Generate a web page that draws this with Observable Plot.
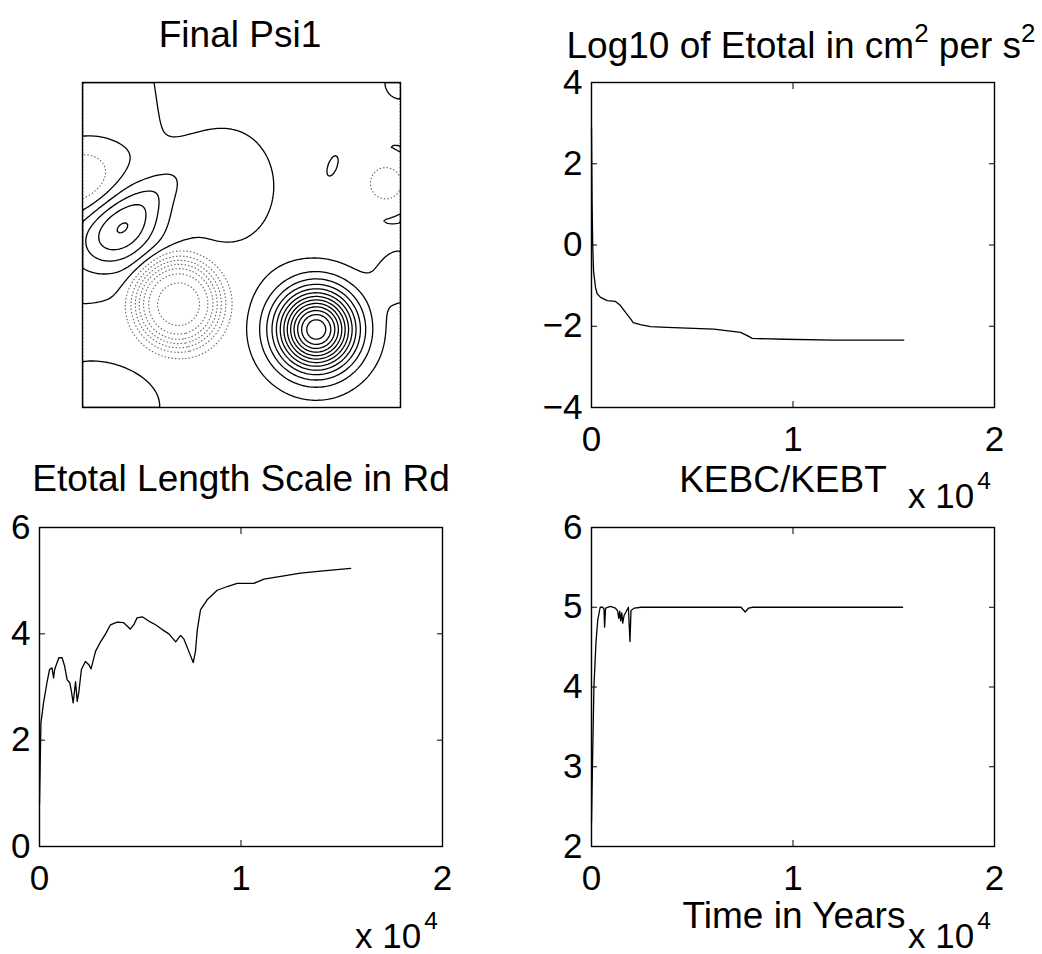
<!DOCTYPE html>
<html><head><meta charset="utf-8">
<script src="https://cdn.jsdelivr.net/npm/d3@7"></script>
<script src="https://cdn.jsdelivr.net/npm/@observablehq/plot@0.6"></script>
<style>
html,body{margin:0;padding:0;background:#fff}
#root{position:relative;width:1042px;height:954px;overflow:hidden;background:#fff;font-family:"Liberation Sans",Arial,Helvetica,sans-serif;color:#000}
.t{position:absolute;white-space:nowrap;line-height:0.8}
.sup{position:relative;font-size:0.7em}
</style></head><body><div id="root"></div>
<script>
// ---------- Data ----------
// Final Psi1 : streamfunction features (centre x, centre y from top, amplitude, widths, tilt, shape)
const vortexX     = [0.735, 0.300, 0.120, 0.240, -0.050, 0.470, 0.000, 0.960, 0.955, 0.785, 0.060, 1.000, 1.000];
const vortexY     = [0.760, 0.680, 0.450, 0.330, 0.100, 0.320, 0.300, 0.310, 0.310, 0.256, 1.000, 0.000, 0.600];
const vortexAmp   = [13.3, -7.0, 4.0, 0.9, 1.3, 0.9, -2.6, 1.6, -3.0, 0.7, 0.9, 0.8, 1.0];
const vortexSx    = [0.085, 0.115, 0.100, 0.090, 0.200, 0.120, 0.085, 0.090, 0.050, 0.010, 0.160, 0.050, 0.060];
const vortexSy    = [0.085, 0.115, 0.075, 0.040, 0.390, 0.150, 0.085, 0.090, 0.050, 0.025, 0.100, 0.050, 0.060];
const vortexTilt  = [0, 0, -35, -40, 0, 0, 0, 0, 0, 20, 0, 0, 0];
const vortexShape = [2, 4, 2, 2, 2, 2, 2, 2, 2, 2, 2, 2, 2];
const posLevels = [0.5, 1.5, 2.5, 3.5, 4.5, 5.5, 6.5, 7.5, 8.5, 9.5, 10.5, 11.5, 12.5];
const negLevels = [-7.5, -6.5, -5.5, -4.5, -3.5, -2.5, -1.5, -0.5];

// Log10 of Etotal (time in years, value)
const etotalLog = [[0,2.9],[30,1.0],[60,0.0],[100,-0.63],[200,-1.05],[280,-1.2],[450,-1.29],[780,-1.37],[1190,-1.39],[1440,-1.49],[1690,-1.66],[1940,-1.82],[2070,-1.91],[2430,-1.96],[2930,-2.01],[3750,-2.03],[6070,-2.07],[7400,-2.15],[7730,-2.23],[7980,-2.30],[9550,-2.32],[12030,-2.34],[15500,-2.34]];

// Etotal length scale in Rd
const lengthScale = [[0,0.8],[70,2.32],[200,2.7],[370,3.08],[500,3.33],[620,3.36],[700,3.17],[750,3.33],[960,3.55],[1120,3.55],[1250,3.39],[1370,3.14],[1500,3.08],[1570,2.95],[1670,2.7],[1790,3.1],[1870,2.73],[1950,2.9],[2080,3.33],[2280,3.48],[2450,3.42],[2560,3.34],[2780,3.67],[3030,3.85],[3280,4.0],[3520,4.17],[3850,4.22],[4180,4.21],[4500,4.09],[4680,4.17],[4840,4.3],[5100,4.32],[5420,4.24],[5760,4.17],[6090,4.08],[6420,4.0],[6760,3.85],[7000,3.97],[7170,3.9],[7410,3.67],[7630,3.46],[7740,3.67],[7830,4.07],[7990,4.45],[8320,4.64],[8820,4.82],[9320,4.89],[9810,4.95],[10640,4.95],[11140,5.03],[12130,5.09],[12950,5.14],[13950,5.18],[15440,5.23]];

// KEBC/KEBT
const kebcKebt = [[0,2.3],[50,3.04],[120,4.0],[220,4.55],[310,4.84],[430,5.0],[550,5.0],[620,4.98],[650,4.75],[700,4.99],[940,5.01],[1190,4.99],[1300,4.95],[1350,4.86],[1400,4.95],[1450,4.83],[1500,4.93],[1550,4.8],[1620,4.9],[1710,4.94],[1830,5.0],[1910,4.57],[1960,4.96],[2130,4.99],[2470,5.0],[7420,5.0],[7630,4.94],[7800,4.99],[8000,5.0],[15440,5.0]];

const xTicks = [0, 10000, 20000];
const yTicksEnergy = [-4, -2, 0, 2, 4];
const yTicksLength = [0, 2, 4, 6];
const yTicksRatio = [2, 3, 4, 5, 6];

// ---------- Layout ----------
const FONT = '"Liberation Sans", Arial, Helvetica, sans-serif';
const root = document.getElementById("root");

function place(node, left, top) {
  node.style.position = "absolute";
  node.style.left = left + "px";
  node.style.top = top + "px";
  root.appendChild(node);
}

function addText(html, {cx, left, baseline, size}) {
  const d = document.createElement("div");
  d.className = "t";
  d.style.fontSize = size + "px";
  d.innerHTML = html;
  d.style.top = (baseline - 0.7465 * size) + "px";
  if (cx != null) { d.style.left = cx + "px"; d.style.transform = "translateX(-50%)"; }
  else d.style.left = left + "px";
  root.appendChild(d);
}

const fmtX = d => String(d / 10000);
const fmtY = d => d < 0 ? "\u2212" + (-d) : String(d);
const blank = () => "";

function linePanel(data, yDomain, yTicks, boxW, boxH, mL) {
  const mR = 30, mT = 10, mB = 50;
  return Plot.plot({
    width: boxW + mL + mR, height: boxH + mT + mB,
    marginLeft: mL, marginRight: mR, marginTop: mT, marginBottom: mB,
    style: {fontFamily: FONT, background: "transparent", overflow: "visible", color: "black"},
    x: {domain: [0, 20000]},
    y: {domain: yDomain},
    marks: [
      Plot.line(data, {x: d => d[0], y: d => d[1], stroke: "black", strokeWidth: 1.3}),
      Plot.axisX({ticks: xTicks, tickSize: 0, tickPadding: 19, fontSize: 35, tickFormat: fmtX, label: null}),
      Plot.axisY({ticks: yTicks, tickSize: 0, tickPadding: 9, fontSize: 35, tickFormat: fmtY, label: null}),
      Plot.axisX({ticks: xTicks, tickSize: -6, tickFormat: blank, label: null}),
      Plot.axisX({anchor: "top", ticks: xTicks, tickSize: -6, tickFormat: blank, label: null}),
      Plot.axisY({ticks: yTicks, tickSize: -6, tickFormat: blank, label: null}),
      Plot.axisY({anchor: "right", ticks: yTicks, tickSize: -6, tickFormat: blank, label: null}),
      Plot.frame({stroke: "black", strokeWidth: 1.4})
    ]
  });
}

// streamfunction built from the feature table
function psi(x, y) {
  let s = 0;
  for (let i = 0; i < vortexX.length; ++i) {
    const dx = x - vortexX[i], dy = y - vortexY[i];
    const a = vortexTilt[i] * Math.PI / 180, c = Math.cos(a), sn = Math.sin(a);
    const u = (dx * c + dy * sn) / vortexSx[i], v = (-dx * sn + dy * c) / vortexSy[i];
    s += vortexAmp[i] * Math.exp(-0.5 * Math.pow(u * u + v * v, vortexShape[i] / 2));
  }
  return s;
}

// Panel 1: contour
const cm = 3;
const contour = Plot.plot({
  width: 318 + 2 * cm, height: 325 + 2 * cm,
  margin: cm,
  style: {background: "transparent", overflow: "visible"},
  x: {domain: [0, 1], axis: null},
  y: {domain: [0, 1], reverse: true, axis: null},
  marks: [
    Plot.contour({x1: 0, y1: 0, x2: 1, y2: 1, value: psi, thresholds: negLevels, stroke: "#666", strokeWidth: 1.1, strokeDasharray: "1.5,2", fill: "none", clip: true}),
    Plot.contour({x1: 0, y1: 0, x2: 1, y2: 1, value: psi, thresholds: posLevels, stroke: "black", strokeWidth: 1.3, fill: "none", clip: true}),
    Plot.frame({stroke: "black", strokeWidth: 1.4})
  ]
});
place(contour, 82 - cm, 82 - cm);

place(linePanel(etotalLog, [-4, 4], yTicksEnergy, 403, 325, 60), 591 - 60, 82 - 10);
place(linePanel(lengthScale, [0, 6], yTicksLength, 403, 319, 39), 0, 527 - 10);
place(linePanel(kebcKebt, [2, 6], yTicksRatio, 403, 319, 60), 591 - 60, 527 - 10);

// Titles and labels
const sup = s => `<span class="sup" style="top:-0.62em">${s}</span>`;
addText("Final Psi1", {cx: 240, baseline: 48, size: 37});
addText(`Log10 of Etotal in cm${sup("2")} per s${sup("2")}`, {cx: 801, baseline: 59, size: 37});
addText("Etotal Length Scale in Rd", {cx: 241, baseline: 492, size: 37});
addText("KEBC/KEBT", {cx: 783, baseline: 493, size: 37});
addText("Time in Years", {cx: 794, baseline: 929, size: 37});
const mult = `x 10<span class="sup" style="top:-0.75em;margin-left:3px">4</span>`;
addText(mult, {left: 908, baseline: 508, size: 35});
addText(mult, {left: 355, baseline: 948, size: 35});
addText(mult, {left: 908, baseline: 948, size: 35});
</script></body></html>
